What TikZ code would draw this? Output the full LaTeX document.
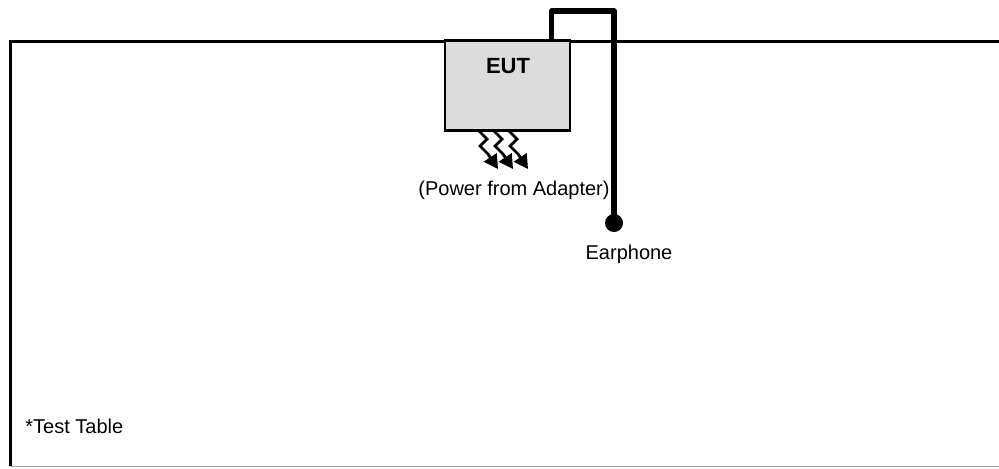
\documentclass[tikz,border=0pt]{standalone}
\usepackage{fontspec}
\setmainfont{Liberation Sans}
\usetikzlibrary{arrows.meta}
\newcommand\boxw{62.5pt}
\newcommand\boxh{45pt}
\newcommand\txtsize{\fontsize{10}{12}\selectfont}

\begin{document}
\begin{tikzpicture}[x=0.5pt,y=-0.5pt,
    eutbox/.style={draw,line width=1.2pt,fill=black!14,minimum width=\boxw,minimum height=\boxh,inner sep=0pt},
    cable/.style={line width=2.6pt,line join=round},
    power/.style={line width=1.4pt,-{Triangle[length=7pt,width=7.5pt]}},
    dot/.style={circle,fill=black,minimum size=9pt,inner sep=0pt},
    txt/.style={font=\txtsize,inner sep=0pt}]
    \useasboundingbox (0,0) rectangle (999,468);

    % test table
    \draw[black!35,line width=0.5pt] (10,466) -- (999,466);
    \draw[line width=1.5pt] (10,466) -- (10,41) -- (999,41);
    \node[txt,anchor=west] (table) at (25,426) {*Test Table};

    % equipment under test
    \node[eutbox] (eut) at (507.5,85.5) {};
    \node[txt,font=\fontsize{11}{13}\selectfont\bfseries] (euttxt) at (508,66) {EUT};

    % power in from adapter
    \foreach \dx in {0,15,30}
      \draw[power] (479+\dx,131) -- ++(8,8) -- ++(-7,7) -- ++(8,8) -- ++(10,15);
    \node[txt] (pwr) at (514,190) {(Power from Adapter)};

    % earphone cable
    \coordinate (plug) at (551.5,41);
    \node[dot] (ear) at (614,223) {};
    \draw[cable] (plug) -- ++(0,-30) -| (ear.center);
    \node[txt] (eartxt) at (629,254) {Earphone};
\end{tikzpicture}
\end{document}
